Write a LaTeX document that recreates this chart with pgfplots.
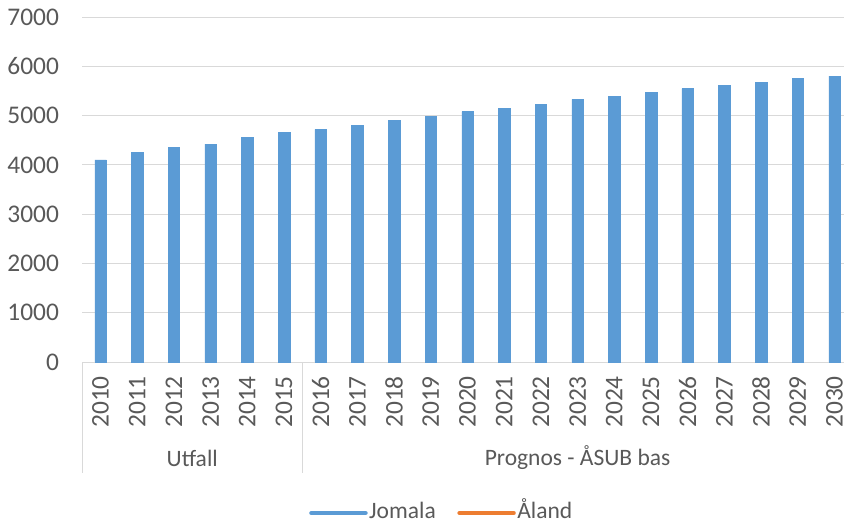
\documentclass[border=0pt]{standalone}
\usepackage{pgfplots}
\pgfplotsset{compat=1.18}
\usepackage{fontspec}
\setmainfont{Carlito}
\definecolor{barblue}{HTML}{5B9BD5}
\definecolor{legorange}{HTML}{ED7D31}
\definecolor{txtgrey}{HTML}{595959}
\definecolor{gridgrey}{HTML}{D9D9D9}
\begin{document}
\begin{tikzpicture}
\useasboundingbox (0,0) rectangle (844bp,-522bp);
\begin{axis}[
  at={(82.15bp,-362bp)}, anchor=south west,
  scale only axis,
  width=761.85bp, height=345bp,
  xmin=-0.5, xmax=20.259,
  ymin=0, ymax=7000,
  ytick={0,1000,...,7000},
  xtick={0,...,20},
  xticklabels={2010,2011,2012,2013,2014,2015,2016,2017,2018,2019,2020,2021,2022,2023,2024,2025,2026,2027,2028,2029,2030},
  axis x line*=bottom, axis y line*=left,
  x axis line style={draw=gridgrey, line width=1bp, -},
  y axis line style={draw=none},
  ymajorgrids, grid style={draw=gridgrey, line width=1bp},
  major tick length=0pt,
  tick style={draw=none},
  yticklabel style={font=\fontsize{25.5}{30}\selectfont, text=txtgrey, inner sep=0pt, anchor=east, xshift=-23bp},
  xticklabel style={font=\fontsize{25.5}{30}\selectfont, text=txtgrey, inner sep=0pt, rotate=90, anchor=east},
  xticklabel shift=14bp,
  /pgf/number format/assume math mode=true,
  /pgf/number format/1000 sep={},
  ybar, bar width=11.5bp,
  clip=false,
  legend columns=2,
  legend style={at={(0.4717,-0.4464)}, anchor=center, draw=none, fill=none,
    font=\fontsize{23.6}{28}\selectfont, text=txtgrey,
    /tikz/every even column/.append style={column sep=20bp},
    nodes={inner sep=1.5bp, text height=0.72em, text depth=0.2em}},
  legend image code/.code={\draw[line width=4.5bp, line cap=round] (0bp,0.3em) -- (54bp,0.3em);},
]
\addplot[fill=barblue, draw=barblue!70!white, line width=0.5bp, barblue] coordinates {
(0,4100) (1,4250) (2,4355) (3,4423) (4,4558) (5,4652) (6,4720) (7,4802) (8,4896) (9,4984) (10,5078)
(11,5153) (12,5234) (13,5329) (14,5390) (15,5471) (16,5545) (17,5613) (18,5680) (19,5748) (20,5802)};
\addlegendentry{Jomala}
\addlegendimage{legorange, line width=4.5bp}
\addlegendentry{Åland}
\draw[gridgrey, line width=1bp] (axis cs:-0.5,0) -- ++(0bp,-111bp);
\draw[gridgrey, line width=1bp] (axis cs:5.5,0) -- ++(0bp,-111bp);
\node[text=txtgrey, font=\fontsize{23.6}{28}\selectfont] at (axis cs:2.5,0) [yshift=-96bp] {Utfall};
\node[text=txtgrey, font=\fontsize{23.6}{28}\selectfont] at (axis cs:13,0) [yshift=-96bp] {Prognos - ÅSUB bas};
\end{axis}
\end{tikzpicture}
\end{document}
